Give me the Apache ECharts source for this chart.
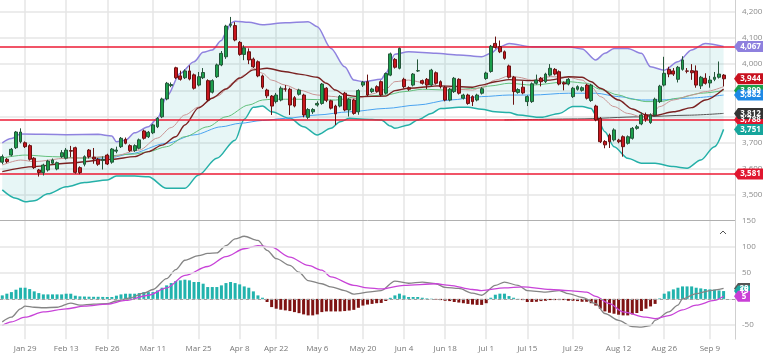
<!DOCTYPE html>
<html><head><meta charset="utf-8">
<script src="https://cdn.jsdelivr.net/npm/echarts@6/dist/echarts.min.js"></script>
<style>html,body{margin:0;padding:0;background:#fff}#c{width:768px;height:354px}</style>
</head><body><div id="c"></div>
<script>
const categories = [
'Jan 19','Jan 22','Jan 23','Jan 24','Jan 26','Jan 29','Jan 30','Jan 31','Feb 1','Feb 2',
'Feb 5','Feb 6','Feb 7','Feb 8','Feb 13','Feb 14','Feb 15','Feb 16','Feb 19','Feb 20',
'Feb 21','Feb 22','Feb 23','Feb 26','Feb 27','Feb 28','Feb 29','Mar 1','Mar 4','Mar 5',
'Mar 6','Mar 7','Mar 8','Mar 11','Mar 12','Mar 13','Mar 14','Mar 15','Mar 18','Mar 19',
'Mar 20','Mar 21','Mar 22','Mar 25','Mar 26','Mar 27','Mar 29','Apr 1','Apr 2','Apr 3',
'Apr 4','Apr 5','Apr 8','Apr 9','Apr 12','Apr 15','Apr 16','Apr 17','Apr 18','Apr 19',
'Apr 22','Apr 23','Apr 24','Apr 25','Apr 26','Apr 29','Apr 30','May 2','May 3','May 6',
'May 7','May 8','May 9','May 10','May 13','May 14','May 15','May 16','May 17','May 20',
'May 21','May 23','May 24','May 27','May 28','May 29','May 30','May 31','Jun 4','Jun 5',
'Jun 6','Jun 7','Jun 10','Jun 11','Jun 12','Jun 13','Jun 14','Jun 18','Jun 19','Jun 20',
'Jun 21','Jun 24','Jun 25','Jun 26','Jun 27','Jun 28','Jul 1','Jul 2','Jul 3','Jul 4',
'Jul 5','Jul 9','Jul 10','Jul 11','Jul 12','Jul 15','Jul 16','Jul 17','Jul 18','Jul 19',
'Jul 22','Jul 23','Jul 24','Jul 25','Jul 26','Jul 29','Jul 30','Jul 31','Aug 1','Aug 2',
'Aug 5','Aug 6','Aug 7','Aug 8','Aug 9','Aug 12','Aug 13','Aug 14','Aug 15','Aug 16',
'Aug 19','Aug 20','Aug 21','Aug 22','Aug 23','Aug 26','Aug 27','Aug 28','Aug 29','Aug 30',
'Sep 2','Sep 3','Sep 4','Sep 5','Sep 6','Sep 9','Sep 10','Sep 11','Sep 12','Sep 13','Sep 17'];

const tickLabels = ['Jan 29','Feb 13','Feb 26','Mar 11','Mar 25','Apr 8','Apr 22','May 6','May 20','Jun 4','Jun 18','Jul 1','Jul 15','Jul 29','Aug 12','Aug 26','Sep 9'];

const opens = [
3626,3637,3653,3681,3704,3700,3689,3641,3596,3586,
3596,3622,3600,3647,3641,3670,3681,3605,3618,3672,
3645,3637,3632,3653,3626,3668,3685,3713,3689,3670,
3679,3745,3723,3738,3761,3799,3867,3918,3986,3955,
3948,3974,3959,3920,3948,3937,3893,3952,3997,4028,
4148,4147,4083,4037,4047,4019,4009,3955,3901,3878,
3857,3863,3905,3904,3872,3885,3882,3797,3818,3844,
3850,3908,3860,3840,3840,3889,3825,3863,3818,3920,
3933,3895,3914,3933,3889,3958,4018,3984,3942,3910,
3920,3974,3937,3942,3920,3967,3933,3912,3863,3895,
3942,3870,3882,3876,3863,3889,3945,3972,4079,4067,
4047,3993,3950,3892,3912,3857,3857,3927,3946,3933,
3958,3980,3971,3929,3924,3876,3904,3900,3920,3861,
3840,3793,3705,3729,3711,3710,3723,3698,3717,3755,
3772,3806,3777,3806,3857,3920,3980,3974,3942,3980,
3974,3975,3974,3917,3946,3928,3942,3950,3958];
const closes = [
3647,3628,3675,3741,3741,3685,3637,3605,3586,3615,
3630,3634,3624,3662,3672,3668,3587,3586,3647,3647,
3638,3618,3636,3619,3676,3672,3717,3698,3670,3689,
3711,3717,3740,3768,3793,3867,3927,3922,3948,3942,
3974,3943,3908,3952,3968,3863,3937,3997,4041,4145,
4152,4092,4037,4062,4016,3990,3955,3912,3879,3840,
3882,3908,3905,3844,3840,3901,3806,3827,3827,3850,
3924,3862,3832,3810,3877,3825,3866,3812,3899,3931,
3882,3905,3896,3882,3964,4039,3988,4060,3914,3904,
3962,3975,3927,3920,3977,3927,3914,3863,3904,3946,
3889,3882,3850,3857,3882,3906,3966,4068,4064,4047,
4022,3950,3895,3903,3890,3876,3925,3939,3933,3962,
3984,3962,3924,3924,3942,3908,3914,3910,3870,3920,
3787,3704,3692,3704,3749,3704,3685,3723,3755,3761,
3806,3790,3806,3866,3916,3965,3962,3962,3988,4016,
3973,3967,3920,3950,3927,3939,3950,3962,3944];
const highs = [
3655,3642,3680,3745,3755,3705,3694,3645,3600,3620,
3635,3640,3628,3672,3680,3688,3685,3610,3652,3676,
3680,3642,3648,3658,3680,3685,3722,3720,3694,3694,
3716,3750,3745,3772,3798,3872,3932,3930,3990,3975,
3980,3995,3964,3970,3985,3942,3942,4002,4050,4150,
4180,4160,4088,4072,4060,4025,4014,3960,3906,3882,
3890,3915,3920,3910,3878,3906,3887,3832,3832,3858,
3928,3912,3864,3845,3882,3894,3870,3868,3904,3936,
3960,3910,3919,3938,3968,4044,4023,4063,3948,3915,
3966,4018,3941,3947,3982,3972,3938,3917,3909,3951,
3946,3887,3887,3881,3887,3912,3971,4073,4105,4090,
4052,3998,3955,3908,3935,3881,3930,3960,3951,3967,
4000,3985,3976,3934,3947,3913,3919,3915,3925,3925,
3845,3798,3710,3735,3755,3715,3728,3728,3760,3768,
3815,3815,3812,3872,3921,4028,3990,3985,3993,4030,
3985,4000,3995,3955,3965,3955,3970,4010,3962];
const lows = [
3618,3622,3648,3676,3698,3680,3632,3600,3571,3575,
3590,3618,3595,3642,3636,3645,3582,3580,3610,3640,
3620,3612,3598,3615,3620,3660,3680,3694,3665,3665,
3675,3712,3718,3733,3756,3794,3862,3912,3943,3937,
3943,3938,3903,3915,3943,3858,3888,3947,3992,4020,
4140,4087,4032,4015,4000,3985,3950,3905,3870,3806,
3850,3858,3895,3806,3835,3880,3797,3790,3810,3838,
3845,3855,3827,3768,3835,3820,3800,3807,3807,3913,
3877,3890,3891,3877,3884,3954,3983,3980,3907,3898,
3915,3970,3922,3905,3915,3922,3907,3858,3858,3890,
3884,3865,3845,3840,3858,3884,3940,3967,4059,4042,
4017,3945,3845,3887,3885,3840,3852,3922,3915,3928,
3953,3957,3919,3900,3919,3871,3899,3895,3865,3856,
3782,3699,3679,3680,3705,3698,3647,3693,3712,3750,
3767,3780,3772,3801,3852,3915,3950,3955,3930,3975,
3965,3940,3910,3905,3922,3910,3935,3945,3915];

// overlay lines: [category index, value]
const bbUpper = [[0,3700],[2,3716],[4,3733],[14,3731],[21,3732],[24,3726],[25,3704],[27,3710],[29,3738],[32,3761],[34,3793],[36,3876],[39,3965],[42,4009],[44,4045],[46,4054],[48,4090],[49,4120],[50,4156],[51,4164],[54,4160],[57,4150],[62,4158],[67,4162],[69,4143],[72,4060],[75,3990],[77,3939],[79,3933],[83,3942],[84,3965],[86,4038],[89,4047],[95,4041],[100,4035],[105,4028],[107,4041],[109,4066],[111,4079],[116,4066],[124,4066],[127,4058],[130,4016],[132,4041],[134,4060],[137,4060],[140,4041],[142,3990],[145,3977],[148,4009],[151,4054],[154,4079],[158,4067]];
const bbLower = [[0,3520],[3,3488],[5,3475],[7,3479],[10,3505],[14,3532],[18,3548],[23,3558],[25,3573],[29,3573],[32,3570],[36,3526],[40,3526],[43,3577],[47,3641],[51,3710],[53,3790],[55,3835],[57,3840],[59,3818],[63,3793],[66,3761],[69,3730],[72,3755],[74,3780],[76,3793],[79,3790],[83,3787],[85,3764],[86,3755],[89,3768],[91,3787],[94,3812],[96,3831],[100,3835],[102,3835],[105,3828],[108,3818],[111,3815],[113,3806],[118,3797],[122,3812],[125,3838],[127,3838],[129,3831],[130,3806],[132,3742],[134,3685],[137,3641],[140,3622],[143,3622],[147,3609],[150,3603],[153,3634],[156,3685],[158,3751]];
const maBrown = [[0,3590],[7,3609],[14,3622],[24,3637],[29,3647],[32,3666],[35,3691],[38,3723],[40,3768],[43,3833],[46,3870],[49,3905],[52,3947],[55,3978],[58,3984],[62,3971],[65,3962],[69,3950],[71,3927],[73,3901],[75,3882],[78,3876],[84,3878],[86,3899],[89,3908],[96,3917],[103,3912],[105,3920],[108,3933],[111,3941],[116,3937],[120,3939],[124,3952],[127,3950],[129,3933],[131,3908],[135,3863],[138,3829],[141,3806],[143,3804],[147,3818],[151,3834],[154,3863],[158,3905]];
const maRosy = [[0,3615],[4,3634],[7,3628],[14,3641],[24,3647],[30,3672],[34,3718],[37,3758],[40,3806],[43,3836],[47,3878],[51,3932],[53,3958],[55,3985],[57,3965],[59,3939],[62,3920],[65,3901],[69,3882],[73,3876],[75,3863],[78,3870],[81,3886],[84,3904],[86,3933],[89,3939],[93,3927],[97,3912],[100,3904],[103,3901],[105,3912],[108,3939],[111,3955],[113,3950],[116,3939],[120,3952],[124,3950],[127,3939],[129,3914],[131,3876],[134,3838],[137,3812],[140,3799],[142,3806],[144,3838],[147,3863],[151,3882],[154,3895],[158,3914]];
const maGreen = [[0,3642],[5,3653],[11,3647],[18,3641],[29,3657],[32,3666],[36,3685],[40,3723],[45,3761],[49,3799],[54,3844],[57,3863],[59,3866],[65,3866],[73,3863],[78,3876],[84,3882],[88,3895],[92,3904],[98,3901],[104,3908],[107,3917],[111,3927],[116,3920],[124,3933],[128,3927],[131,3904],[135,3882],[138,3866],[141,3857],[144,3857],[148,3870],[153,3889],[158,3899]];
const maBlue = [[20,3638],[24,3644],[28,3658],[36,3698],[42,3730],[48,3761],[52,3774],[57,3785],[62,3793],[69,3806],[76,3818],[84,3831],[91,3844],[98,3863],[105,3876],[111,3882],[116,3882],[124,3889],[130,3889],[135,3876],[140,3863],[144,3863],[150,3870],[158,3882]];
const maGray = [[110,3787],[126,3791],[140,3799],[150,3805],[158,3812]];
const levels = [4065, 3788, 3581];

const macdHist = [
6.7,10,13,17.6,21.4,21.4,18.8,14.4,11.1,8.6,
8.6,8.6,8.6,8.6,9.9,9.9,6.1,4.8,4.5,4.2,
4,4,3.8,3.6,3.6,6.2,8.6,9.9,9.9,9.9,
11.1,13,13,13,16.2,21.4,25.9,30.3,34.2,35.5,
36.8,35.5,32.3,32.3,29.1,22.7,22.7,22.7,25.9,30.3,
32.3,30.3,27.8,23.9,21.4,14.4,6.7,2.2,-6,-15.7,
-18.8,-20.7,-22,-23.3,-25.3,-27.3,-29.7,-31.6,-31.6,-29.7,
-25.3,-24,-24,-24,-24,-23.3,-22.3,-21,-17,-12.8,
-10.8,-9.6,-8.3,-7.7,-4,2,6.7,10,6.7,3.6,
3.6,3.6,2.2,1,0.5,-1,-2.3,-3.6,-4.2,-6,
-7,-8.3,-9.6,-10.8,-11.5,-11.5,-8.3,2.2,8,10,
10,5.4,2.2,0.3,-2.3,-6,-6,-5.5,-4.2,-3.6,
-2.3,-2.3,-2.3,-2.3,-3.6,-3.6,-4.2,-5.5,-5.5,-8.3,
-12.8,-18.8,-24,-26.6,-28.4,-30.3,-31.6,-31.6,-29.7,-27,
-23.3,-18.8,-14.4,-9.6,1,10,14.4,18.2,21.4,23.9,
23.9,23.9,21.4,20.1,18.8,18.2,17.6,16.2,15];
const macdLine = [[0,-44],[2,-35],[4,-19],[5,-14],[7,-16],[9,-17],[12,-16],[15,-8],[17,-12],[20,-10],[23,-9],[25,-4],[28,2],[31,11],[33,18],[36,39],[38,56],[40,74],[43,83],[45,87],[47,88],[49,102],[51,115],[53,120],[56,112],[58,93],[60,77],[63,64],[65,51],[67,35],[70,29],[72,23],[75,16],[77,9],[78,10],[80,13],[83,16],[86,34],[89,30],[92,32],[95,29],[97,22],[100,20],[103,11],[105,7],[108,26],[110,32],[113,26],[115,16],[119,13],[122,16],[124,10],[127,3],[130,-9],[132,-28],[135,-41],[138,-53],[140,-54],[142,-51],[143,-41],[146,-25],[148,-12],[149,0],[152,10],[155,16],[158,20]];
const signalLine = [[0,-51],[2,-44],[5,-35],[9,-25],[14,-19],[18,-14],[23,-10],[27,-3],[32,7],[36,21],[40,45],[45,62],[49,81],[53,96],[56,102],[59,99],[63,80],[67,64],[70,55],[72,42],[77,26],[80,21],[83,19],[88,26],[95,29],[98,26],[103,18],[105,16],[110,21],[114,23],[120,18],[124,16],[128,13],[130,5],[133,-9],[136,-25],[141,-35],[143,-38],[146,-32],[149,-21],[152,-12],[156,-3],[158,5]];

const FONT = '"Open Sans", "Noto Sans", sans-serif';
const isTick = (idx, val) => tickLabels.indexOf(val) >= 0;
const fmt = v => Math.round(v).toLocaleString('en-US');
const last = a => { const e = a[a.length - 1]; return Array.isArray(e) ? e[1] : e; };

const chart = echarts.init(document.getElementById('c'), null, {width: 768, height: 354});

const gridLine = {color: '#e6e6e6', width: 1.5};
const lineSeries = (data, color, width, z) => ({
  type: 'line', xAxisIndex: 0, yAxisIndex: 0, data, symbol: 'none', smooth: 0.3,
  smoothMonotone: 'x', clip: false, silent: true, z: z || 3,
  lineStyle: {color, width}
});

const candleData = opens.map((o, i) => [o, closes[i], lows[i], highs[i]]);

chart.setOption({
  animation: false,
  textStyle: {fontFamily: FONT},
  grid: [
    {left: 0, right: 33, top: 0, height: 220},
    {left: 0, right: 33, top: 220, height: 119.3}
  ],
  xAxis: [
    {type: 'category', gridIndex: 0, data: categories, boundaryGap: true,
     axisLine: {show: false}, axisTick: {show: false}, axisLabel: {show: false},
     splitLine: {show: true, interval: isTick, alignWithLabel: true, lineStyle: gridLine}},
    {type: 'category', gridIndex: 1, data: categories, boundaryGap: true,
     axisLine: {show: true, lineStyle: {color: '#dcdcdc', width: 1}}, axisTick: {show: false},
     axisLabel: {interval: isTick, color: '#777', fontSize: 8, margin: 5, fontFamily: FONT},
     splitLine: {show: true, interval: isTick, alignWithLabel: true, lineStyle: gridLine}}
  ],
  yAxis: [
    {type: 'value', gridIndex: 0, position: 'right', min: 3405.3, max: 4244.6, splitNumber: 8,
     axisLine: {show: false}, axisTick: {show: false},
     axisLabel: {color: '#8c8c8c', fontSize: 8, margin: 7, showMinLabel: false, showMaxLabel: false,
                 formatter: v => fmt(v), fontFamily: FONT},
     splitLine: {show: true, showMinLine: false, showMaxLine: false, lineStyle: gridLine}},
    {type: 'value', gridIndex: 1, position: 'right', min: -77.4, max: 151.1, splitNumber: 5,
     axisLine: {show: false}, axisTick: {show: false},
     axisLabel: {color: '#8c8c8c', fontSize: 8, margin: 7, showMinLabel: false, showMaxLabel: false,
                 formatter: v => fmt(v), fontFamily: FONT},
     splitLine: {show: false}}
  ],
  series: [
    {type: 'custom', xAxisIndex: 0, yAxisIndex: 0, data: [[0, 4000]], silent: true, z: 1, clip: false,
     renderItem: (params, api) => {
       const pts = bbUpper.map(d => api.coord(d)).concat(bbLower.slice().reverse().map(d => api.coord(d)));
       return {type: 'polygon', shape: {points: pts}, style: {fill: 'rgba(38,176,170,0.11)'}};
     }},
    lineSeries(bbUpper, '#8f83df', 1.5),
    lineSeries(bbLower, '#25b0a8', 1.5),
    lineSeries(maGray, '#555555', 1),
    lineSeries(maBlue, '#4aa3f0', 1),
    lineSeries(maGreen, '#62c07c', 1),
    lineSeries(maRosy, '#c99494', 1),
    lineSeries(maBrown, '#7a2222', 1.4),
    {type: 'candlestick', xAxisIndex: 0, yAxisIndex: 0, data: candleData, barWidth: 3.4, z: 5, silent: true,
     itemStyle: {color: '#1b9f4b', color0: '#c8161e', borderColor: '#24563a', borderColor0: '#6a1212', borderWidth: 1},
     markLine: {silent: true, symbol: 'none', label: {show: false},
                lineStyle: {color: '#ec1b34', width: 1.5, type: 'solid'},
                data: levels.map(v => ({yAxis: v}))}},
    {type: 'bar', xAxisIndex: 1, yAxisIndex: 1, data: macdHist, barWidth: 3, silent: true, z: 2,
     itemStyle: {color: p => p.value >= 0 ? '#22b3ad' : '#7f1414'},
     markLine: {silent: true, symbol: 'none', label: {show: false},
                data: [
                  {yAxis: 100, lineStyle: {color: '#e6e6e6', width: 1.5, type: 'solid'}},
                  {yAxis: 50, lineStyle: {color: '#e6e6e6', width: 1.5, type: 'solid'}},
                  {yAxis: -50, lineStyle: {color: '#e6e6e6', width: 1.5, type: 'solid'}},
                  {yAxis: 0, lineStyle: {color: '#a0a0a0', width: 1, type: [3, 3]}}
                ]}},
    {type: 'line', xAxisIndex: 1, yAxisIndex: 1, data: macdLine, symbol: 'none', smooth: 0.3, smoothMonotone: 'x',
     clip: false, silent: true, z: 4, lineStyle: {color: '#858585', width: 1.3}},
    {type: 'line', xAxisIndex: 1, yAxisIndex: 1, data: signalLine, symbol: 'none', smooth: 0.3, smoothMonotone: 'x',
     clip: false, silent: true, z: 4, lineStyle: {color: '#c843d8', width: 1.3}}
  ]
});

function tag(y, color, text, w) {
  const x0 = 734, h = 11;
  return {type: 'group', z: 100, children: [
    {type: 'polygon', z: 100, shape: {points: [[x0, y], [x0 + 4, y - h / 2], [x0 + w, y - h / 2], [x0 + w, y + h / 2], [x0 + 4, y + h / 2]]},
     style: {fill: color}},
    {type: 'text', z: 101, x: x0 + 4 + (w - 4) / 2, y: y,
     style: {text: text, fill: '#ffffff', font: 'bold 8px ' + FONT, align: 'center', verticalAlign: 'middle'}}
  ]};
}
const py = v => chart.convertToPixel({yAxisIndex: 0}, v);
const my = v => chart.convertToPixel({yAxisIndex: 1}, v);
const W = 29, WS = 16;
chart.setOption({graphic: [
  {type: 'line', z: 50, shape: {x1: 0, y1: 220.5, x2: 735, y2: 220.5}, style: {stroke: '#b0b0b0', lineWidth: 1}},
  {type: 'line', z: 50, shape: {x1: 735.5, y1: 0, x2: 735.5, y2: 339.5}, style: {stroke: '#cfcfcf', lineWidth: 1}},
  {type: 'polyline', z: 50, shape: {points: [[720, 234], [723, 231], [726, 234]]}, style: {stroke: '#555', lineWidth: 1, fill: null}},
  tag(py(last(maGreen)), '#18a048', fmt(last(maGreen)), W),
  tag(py(levels[1]), '#e0162f', fmt(levels[1]), W),
  tag(py(last(bbUpper)), '#8e80de', fmt(last(bbUpper)), W),
  tag(py(last(closes)), '#c8101e', fmt(last(closes)), W),
  tag(py(last(maBlue)), '#1e88e5', fmt(last(maBlue)), W),
  tag(py(last(maGray)), '#333333', fmt(last(maGray)), W),
  tag(py(last(bbLower)), '#16a59c', fmt(last(bbLower)), W),
  tag(py(levels[2]), '#e0162f', fmt(levels[2]), W),
  tag(my(last(macdLine)), '#555555', fmt(last(macdLine)), WS),
  tag(my(last(macdHist)), '#1aa8a2', fmt(last(macdHist)), WS),
  tag(my(last(signalLine)), '#c93fd6', fmt(last(signalLine)), WS)
]});
</script>
</body></html>
